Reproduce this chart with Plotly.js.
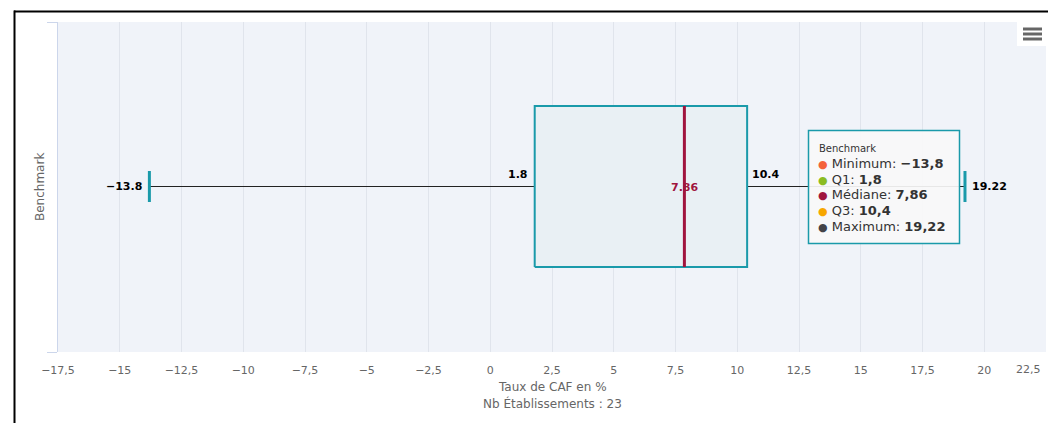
<!DOCTYPE html>
<html>
<head>
<meta charset="utf-8">
<script src="https://cdn.plot.ly/plotly-3.0.1.min.js"></script>
<style>html,body{margin:0;padding:0;background:#fff;}#chart{width:1048px;height:423px;}</style>
</head>
<body>
<div id="chart"></div>
<script>
// ---- data ----
const categories = ['Benchmark'];
const minimum = [-13.8];
const q1 = [1.8];
const median = [7.86];
const q3 = [10.4];
const maximum = [19.22];
const statNames = ['Minimum', 'Q1', 'Médiane', 'Q3', 'Maximum'];
const statColors = ['#f4623a', '#8bbc21', '#a0153e', '#f7a700', '#434348'];
const tickValues = [-17.5, -15, -12.5, -10, -7.5, -5, -2.5, 0, 2.5, 5, 7.5, 10, 12.5, 15, 17.5, 20, 22.5];
const xTitle = 'Taux de CAF en %';
const countLabel = 'Nb Établissements : 23';

// ---- layout helpers (pixel -> paper) ----
const W = 1048, H = 423, ML = 58, MR = 2, MT = 22, MB = 71;
const PW = W - ML - MR, PH = H - MT - MB;
const px = x => (x - ML) / PW;
const py = y => 1 - (y - MT) / PH;

const FONT = 'DejaVu Sans, Verdana, sans-serif';
const teal = '#1a9aaa';
const dark = '#222222';
const crimson = '#a0153e';
const BOX_HALF = 0.244, CAP_HALF = 0.047;

const fmtDot = v => String(v).replace('-', '\u2212');
const fmtComma = v => String(v).replace('.', ',').replace('-', '\u2212');

const i = 0;
const traces = [
  // whiskers
  {type:'scatter', mode:'lines', x:[minimum[i], q1[i]], y:[0,0], line:{color:dark, width:1}, hoverinfo:'skip'},
  {type:'scatter', mode:'lines', x:[q3[i], maximum[i]], y:[0,0], line:{color:dark, width:1}, hoverinfo:'skip'},
  // box
  {type:'scatter', mode:'lines', x:[q1[i], q3[i], q3[i], q1[i], q1[i]],
   y:[-BOX_HALF, -BOX_HALF, BOX_HALF, BOX_HALF, -BOX_HALF],
   fill:'toself', fillcolor:'#e9f0f4', line:{color:teal, width:2}, hoverinfo:'skip'},
  // caps
  {type:'scatter', mode:'lines', x:[minimum[i], minimum[i]], y:[-CAP_HALF, CAP_HALF], line:{color:teal, width:3}, hoverinfo:'skip'},
  {type:'scatter', mode:'lines', x:[maximum[i], maximum[i]], y:[-CAP_HALF, CAP_HALF], line:{color:teal, width:3}, hoverinfo:'skip'},
  // median
  {type:'scatter', mode:'lines', x:[median[i], median[i]], y:[-BOX_HALF, BOX_HALF], line:{color:crimson, width:3}, hoverinfo:'skip'}
];

const lblFont = {family:FONT, size:11, color:'#000'};
const axFont = {family:FONT, size:11, color:'#666'};
const lastTick = tickValues[tickValues.length - 1];
const annotations = [
  {x:minimum[i], y:0, xref:'x', yref:'y', text:'<b>'+fmtDot(minimum[i])+'</b>', showarrow:false, xanchor:'right', yanchor:'middle', xshift:-5, font:lblFont},
  {x:q1[i], y:0, xref:'x', yref:'y', text:'<b>'+fmtDot(q1[i])+'</b>', showarrow:false, xanchor:'right', yanchor:'middle', xshift:-5, yshift:12, font:lblFont},
  {x:q3[i], y:0, xref:'x', yref:'y', text:'<b>'+fmtDot(q3[i])+'</b>', showarrow:false, xanchor:'left', yanchor:'middle', xshift:3, yshift:12, font:lblFont},
  {x:median[i], y:0, xref:'x', yref:'y', text:'<b>'+fmtDot(median[i])+'</b>', showarrow:false, xanchor:'center', yanchor:'middle', yshift:-1, font:{family:FONT, size:11, color:crimson}},
  {x:maximum[i], y:0, xref:'x', yref:'y', text:'<b>'+fmtDot(maximum[i])+'</b>', showarrow:false, xanchor:'left', yanchor:'middle', xshift:5, font:lblFont},
  // last tick label (kept inside the chart, as in the original)
  {x:lastTick, y:py(369), xref:'x', yref:'paper', text:fmtComma(lastTick), showarrow:false, xanchor:'right', yanchor:'middle', xshift:-3, font:axFont},
  // y-axis title
  {x:px(40), y:py(187), xref:'paper', yref:'paper', text:categories[i], textangle:-90, showarrow:false, xanchor:'center', yanchor:'middle', font:{family:FONT, size:12, color:'#666'}},
  // x-axis title
  {x:px(552), y:py(387), xref:'paper', yref:'paper', text:xTitle, showarrow:false, xanchor:'center', yanchor:'middle', font:{family:FONT, size:12, color:'#666'}},
  {x:px(552), y:py(404), xref:'paper', yref:'paper', text:countLabel, showarrow:false, xanchor:'center', yanchor:'middle', font:{family:FONT, size:12, color:'#666'}},
  // tooltip header
  {x:px(817), y:py(148), xref:'paper', yref:'paper', text:categories[i], showarrow:false, xanchor:'left', yanchor:'middle', font:{family:FONT, size:10, color:'#333'}}
];
const statVals = [minimum[i], q1[i], median[i], q3[i], maximum[i]];
const rowY = [163, 179, 194, 210, 226];
statNames.forEach((n, k) => {
  annotations.push({x:px(816), y:py(rowY[k]), xref:'paper', yref:'paper', showarrow:false, xanchor:'left', yanchor:'middle',
    text:'<span style="color:'+statColors[k]+';font-size:11px">\u25CF</span> '+n+': <b>'+fmtComma(statVals[k])+'</b>',
    font:{family:FONT, size:13, color:'#333'}});
});

const shapes = [
  // outer frame lines
  {type:'line', xref:'paper', yref:'paper', x0:px(14.5), x1:px(14.5), y0:py(10.5), y1:py(423), line:{color:'#000', width:2}},
  {type:'line', xref:'paper', yref:'paper', x0:px(14), x1:px(1048), y0:py(11.5), y1:py(11.5), line:{color:'#000', width:2}},
  // tooltip box
  {type:'rect', xref:'paper', yref:'paper', x0:px(808.5), x1:px(959.5), y0:py(243.5), y1:py(130.5), fillcolor:'rgba(248,248,248,0.92)', line:{color:teal, width:1.5}},
  // menu background + icon
  {type:'rect', xref:'paper', yref:'paper', x0:px(1017), x1:px(1048), y0:py(46), y1:py(22), fillcolor:'#ffffff', line:{width:0}},
  {type:'line', xref:'paper', yref:'paper', x0:px(1023), x1:px(1042), y0:py(29), y1:py(29), line:{color:'#666', width:3}},
  {type:'line', xref:'paper', yref:'paper', x0:px(1023), x1:px(1042), y0:py(34), y1:py(34), line:{color:'#666', width:3}},
  {type:'line', xref:'paper', yref:'paper', x0:px(1023), x1:px(1042), y0:py(39), y1:py(39), line:{color:'#666', width:3}}
];

const layout = {
  width: W, height: H,
  margin: {l:ML, r:MR, t:MT, b:MB, pad:0},
  paper_bgcolor: '#ffffff',
  plot_bgcolor: '#f0f3f9',
  separators: ', ',
  showlegend: false,
  font: {family: FONT, size: 11, color: '#666'},
  xaxis: {
    range: [tickValues[0], lastTick],
    tickmode: 'array', tickvals: tickValues.slice(0, -1), ticktext: tickValues.slice(0, -1).map(fmtComma),
    showgrid: true, gridcolor: '#e0e4ec', gridwidth: 1,
    zeroline: false, showline: false, ticks: '',
    ticklabelstandoff: 10,
    tickfont: axFont,
    fixedrange: true
  },
  yaxis: {
    range: [-0.5015, 0.4985], tickmode: 'array', tickvals: [-0.5015, 0.4985],
    showticklabels: false, ticks: 'outside', ticklen: 10, tickcolor: '#ccd6eb', tickwidth: 1,
    showgrid: false, zeroline: false, showline: true, linecolor: '#ccd6eb', linewidth: 1,
    fixedrange: true
  },
  annotations: annotations,
  shapes: shapes
};

Plotly.newPlot('chart', traces, layout, {displayModeBar: false, staticPlot: true});
</script>
</body>
</html>
